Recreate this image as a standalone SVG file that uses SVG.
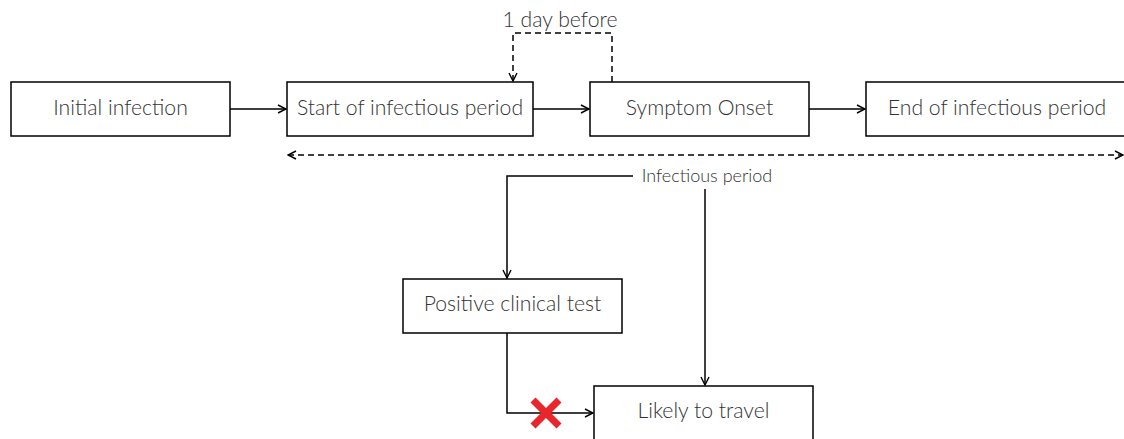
<svg xmlns="http://www.w3.org/2000/svg" width="1124" height="439" viewBox="0 0 1124 439">
<defs>
<marker id="arr" viewBox="0 0 10 10" refX="9" refY="5" markerWidth="10" markerHeight="10" markerUnits="userSpaceOnUse" orient="auto-start-reverse">
<polyline points="1,1 9,5 1,9" fill="none" stroke="#000" stroke-width="1.4"/>
</marker>
<style>
.box{fill:#fff;stroke:#000;stroke-width:1.5}
.t{font-family:Lato,"Liberation Sans",sans-serif;font-weight:300;font-size:21.2px;fill:#333;text-anchor:middle}
.s{font-size:18px}
.ln{fill:none;stroke:#000;stroke-width:1.5}
.d{stroke-dasharray:6,4}
</style>
</defs>
<rect width="1124" height="439" fill="#fff"/>
<g id="connectors">
<line class="ln" x1="230" y1="109" x2="286" y2="109" marker-end="url(#arr)"/>
<line class="ln" x1="533" y1="109" x2="589" y2="109" marker-end="url(#arr)"/>
<line class="ln" x1="809" y1="109" x2="865" y2="109" marker-end="url(#arr)"/>
<polyline class="ln d" points="612,82 612,33 513,33 513,81" marker-end="url(#arr)"/>
<line class="ln d" x1="288" y1="155" x2="1123" y2="155" marker-start="url(#arr)" marker-end="url(#arr)"/>
<polyline class="ln" points="633,176 507,176 507,278" marker-end="url(#arr)"/>
<line class="ln" x1="705" y1="189" x2="705" y2="385" marker-end="url(#arr)"/>
<polyline class="ln" points="507,333 507,413 593,413" marker-end="url(#arr)"/>
<g stroke="#e8262b" stroke-width="7">
<line x1="533" y1="400" x2="559" y2="426"/>
<line x1="559" y1="400" x2="533" y2="426"/>
</g>
<text class="t" x="560" y="27">1 day before</text>
<text class="t s" x="707" y="182">Infectious period</text>
</g>
<g id="n1"><rect class="box" x="11" y="82" width="219" height="54"/><text class="t" x="120.5" y="115">Initial infection</text></g>
<g id="n2"><rect class="box" x="287" y="82" width="246" height="54"/><text class="t" x="410" y="115">Start of infectious period</text></g>
<g id="n3"><rect class="box" x="590" y="82" width="219" height="54"/><text class="t" x="699.5" y="115">Symptom Onset</text></g>
<g id="n4"><rect class="box" x="866" y="82" width="264" height="54"/><text class="t" x="997" y="115">End of infectious period</text></g>
<g id="n5"><rect class="box" x="403" y="279" width="219" height="54"/><text class="t" x="512.5" y="311">Positive clinical test</text></g>
<g id="n6"><rect class="box" x="594" y="386" width="219" height="60"/><text class="t" x="703.5" y="418">Likely to travel</text></g>
</svg>
